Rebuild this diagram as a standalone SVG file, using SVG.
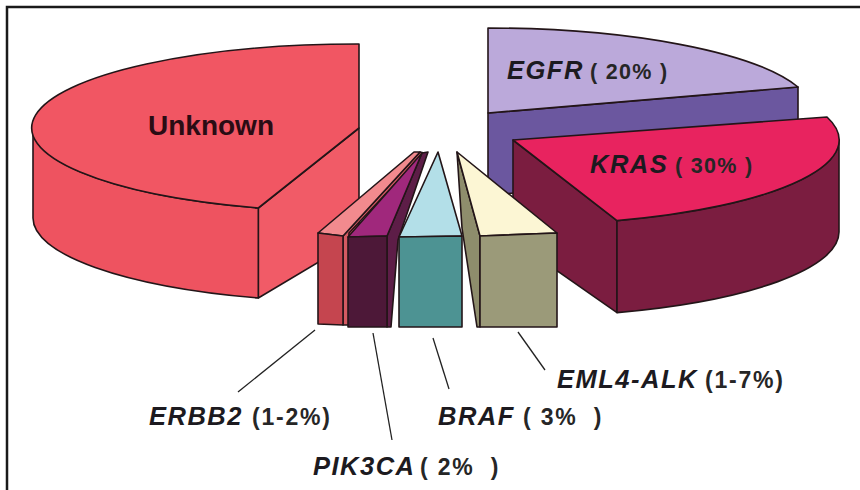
<svg xmlns="http://www.w3.org/2000/svg" width="860" height="490" viewBox="0 0 860 490">
<style>
.o{stroke:#231518;stroke-width:1.6;stroke-linejoin:round}
.ld{stroke:#222;stroke-width:1.3;fill:none}
.g{font-family:"Liberation Sans",Arial,sans-serif;font-weight:bold;font-style:italic;font-size:25.5px;letter-spacing:1.5px;fill:#1c1a20}
.p{font-family:"Liberation Sans",Arial,sans-serif;font-weight:bold;font-style:normal;font-size:23px;letter-spacing:1.8px;fill:#262626}
.pt{font-size:21.5px;letter-spacing:1.3px}
</style>
<rect width="860" height="490" fill="#ffffff"/>
<g id="frame" fill="none" stroke="#1a1a1a" stroke-width="2.5">
<path d="M7,490 L7,7 L860,7"/>
</g>
<g id="unknown">
<path class="o" fill="#f15b67" d="M359,128 L258.3,208 L258.3,298 L359,238 Z"/>
<path class="o" fill="#ee5360" d="M33,128 A326,84 0 0 0 258.3,208 L258.3,298 A326,84 0 0 1 33,218 Z"/>
<path class="o" fill="#f15663" d="M359,128 L359,44 A326,84 0 0 0 258.3,208 Z"/>
<text x="148" y="135" font-family="'Liberation Sans',Arial,sans-serif" font-weight="bold" font-size="28" fill="#2a0c14">Unknown</text>
</g>
<g id="egfr">
<path class="o" fill="#6b579f" d="M488,113 L798,87 L798,172 L488,195 Z"/>
<path class="o" fill="#bba9da" d="M488,113 L488,28 A326,85 0 0 1 798,87 Z"/>
<text class="g" x="507" y="79">EGFR<tspan class="p pt" x="590">( 20% )</tspan></text>
</g>
<g id="kras">
<path class="o" fill="#7b1d40" d="M513,140 L617,220.6 L617,312.6 L513,240 Z"/>
<path class="o" fill="#7b1d40" d="M839,140 A326,85 0 0 1 617,220.6 L617,312.6 A326,85 0 0 0 839,232 Z"/>
<path class="o" fill="#e8235f" d="M513,140 L827,117 A326,85 0 0 1 617,220.6 Z"/>
<text class="g" x="590" y="173">KRAS<tspan class="p pt" x="675">( 30% )</tspan></text>
</g>
<g id="erbb2">
<path class="o" fill="#d45a62" d="M343,236 L420,152 L424,153 L349,233 L349,325 L343,325 Z"/>
<path class="o" fill="#f28a8e" d="M318,233 L414,152 L420,152 L343,236 Z"/>
<path class="o" fill="#c5454f" d="M318,233 L343,236 L343,325 L318,324 Z"/>
</g>
<g id="pik3ca">
<path class="o" fill="#5d1d47" d="M387,236 L422,153 L428,152 L398,240 L391,327 L387,327 Z"/>
<path class="o" fill="#a0287c" d="M348,237 L422,153 L387,236 Z"/>
<path class="o" fill="#4d1838" d="M348,237 L387,236 L387,327 L348,327 Z"/>
</g>
<g id="braf">
<path class="o" fill="#b3dfe8" d="M399,237 L438,152 L462,236 Z"/>
<path class="o" fill="#4d9393" d="M399,237 L462,236 L462,327 L399,327 Z"/>
</g>
<g id="eml4alk">
<path class="o" fill="#8e8d6c" d="M457,152 L480,236 L480,327 L477,327 L462,228 Z"/>
<path class="o" fill="#fcf6d4" d="M457,152 L557,233 L480,236 Z"/>
<path class="o" fill="#9b9a79" d="M480,236 L557,233 L557,327 L480,327 Z"/>
</g>
<g id="connectors">
<line class="ld" x1="315" y1="330" x2="238" y2="392"/>
<line class="ld" x1="373" y1="333" x2="392" y2="440"/>
<line class="ld" x1="433" y1="338" x2="449" y2="389"/>
<line class="ld" x1="518" y1="332" x2="545" y2="370"/>
</g>
<g id="labels">
<text class="g" x="149" y="425">ERBB2<tspan class="p" x="252">(1-2%)</tspan></text>
<text class="g" x="313" y="475">PIK3CA<tspan class="p" x="420">( 2%&#160; )</tspan></text>
<text class="g" x="438" y="425">BRAF<tspan class="p" x="523">( 3%&#160; )</tspan></text>
<text class="g" x="557" y="388">EML4-ALK<tspan class="p" x="705">(1-7%)</tspan></text>
</g>
</svg>
